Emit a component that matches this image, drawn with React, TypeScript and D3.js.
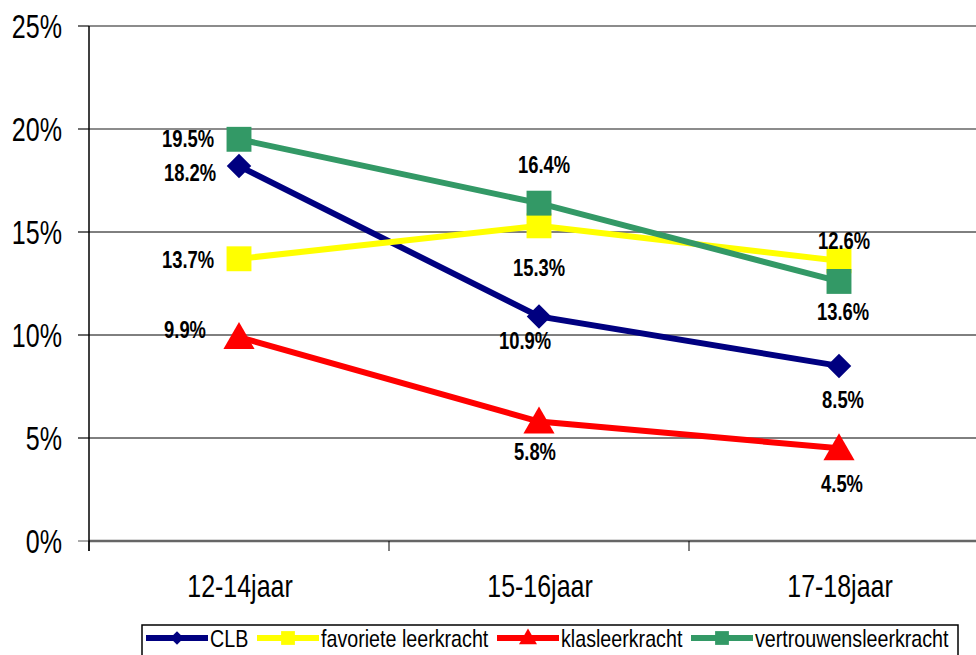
import React from "react";
import { scaleBand, scaleLinear, line, symbol, symbolSquare, symbolTriangle } from "d3";

const categories = ["12-14jaar", "15-16jaar", "17-18jaar"];
const seriesNames = ["CLB", "favoriete leerkracht", "klasleerkracht", "vertrouwensleerkracht"];
const clb = [18.2, 10.9, 8.5];
const favoriete = [13.7, 15.3, 13.6];
const klas = [9.9, 5.8, 4.5];
const vertrouwens = [19.5, 16.4, 12.6];
const yTicks = [0, 5, 10, 15, 20, 25];

// label placement (dx, dy from the marker), like the data labels in the source
const labelOffsets = [
  [[-49, 7], [-14, 24], [4, 34]],
  [[-51, 1], [0, 42], [4, 51]],
  [[-54, -7], [-4, 30], [3, 35]],
  [[-51, -1], [5, -38], [5, -41]],
];

const W = 976;
const H = 655;
const margin = { left: 89, top: 26, bottom: 541 };
const colors = ["#000080", "#FFFF00", "#FF0000", "#339966"];
// diamond = square rotated 45deg
const symbols = [symbolSquare, symbolSquare, symbolTriangle, symbolSquare];
const rotations = [45, 0, 0, 0];
const symbolSizes = [300, 620, 420, 620];
const legendSizes = [90, 190, 140, 190];
const font = "'Liberation Sans', Arial, sans-serif";

function SText({ x, y, sx, size, bold, anchor, children }: any) {
  return (
    <text
      transform={`translate(${x},${y}) scale(${sx},1)`}
      textAnchor={anchor}
      dominantBaseline="central"
      fontFamily={font}
      fontSize={size}
      fontWeight={bold ? "bold" : "normal"}
      fill="#000"
    >
      {children}
    </text>
  );
}

export default function App() {
  const series = [clb, favoriete, klas, vertrouwens];
  const x = scaleBand<string>().domain(categories).range([margin.left, margin.left + 900]);
  const y = scaleLinear().domain([0, 25]).range([margin.bottom, margin.top]);
  const cx = (c: string) => (x(c) ?? 0) + x.bandwidth() / 2;
  const lineFn = line<number>()
    .x((_, i) => cx(categories[i]))
    .y((d) => y(d));

  const legendX = [146, 257, 497, 691];

  return (
    <svg
      width={W}
      height={H}
      style={{ position: "absolute", left: 0, top: 0, background: "#fff" }}
    >
      {/* gridlines */}
      {yTicks.map((t) => (
        <g key={t}>
          <line
            x1={t === 0 ? margin.left : margin.left - 11}
            x2={W}
            y1={y(t)}
            y2={y(t)}
            stroke={t === 0 || t === 25 || t === 20 ? "#666" : "#000"}
            strokeWidth={t === 0 ? 2.5 : t === 25 || t === 20 ? 1.5 : 1}
          />
          <line x1={margin.left - 11} x2={margin.left} y1={y(t)} y2={y(t)} stroke="#555" strokeWidth={1} />
          <SText x={62} y={y(t)} sx={0.76} size={33} anchor="end">
            {`${t}%`}
          </SText>
        </g>
      ))}
      {/* y axis */}
      <line x1={margin.left} x2={margin.left} y1={margin.top} y2={margin.bottom + 10} stroke="#000" strokeWidth={1.5} />
      {/* x ticks */}
      {[0, 1, 2, 3].map((i) => (
        <line
          key={i}
          x1={margin.left + i * x.bandwidth()}
          x2={margin.left + i * x.bandwidth()}
          y1={margin.bottom}
          y2={margin.bottom + 10}
          stroke="#000"
          strokeWidth={1}
        />
      ))}
      {categories.map((c) => (
        <SText key={c} x={cx(c) + 1} y={586} sx={0.78} size={32} anchor="middle">
          {c}
        </SText>
      ))}
      {/* lines */}
      {series.map((s, si) => (
        <path key={si} d={lineFn(s) ?? ""} fill="none" stroke={colors[si]} strokeWidth={6} />
      ))}
      {/* markers */}
      {series.map((s, si) =>
        s.map((v, i) => (
          <path
            key={`${si}-${i}`}
            transform={`translate(${cx(categories[i])},${y(v) + (si === 2 ? 3 : 0)}) rotate(${rotations[si]})`}
            d={symbol(symbols[si], symbolSizes[si])() ?? ""}
            fill={colors[si]}
          />
        ))
      )}
      {/* data labels */}
      {series.map((s, si) =>
        s.map((v, i) => (
          <SText
            key={`l${si}-${i}`}
            x={cx(categories[i]) + labelOffsets[si][i][0]}
            y={y(v) + labelOffsets[si][i][1]}
            sx={0.8}
            size={23}
            bold
            anchor="middle"
          >
            {`${v.toFixed(1)}%`}
          </SText>
        ))
      )}
      {/* legend */}
      <rect x={142} y={625} width={816} height={40} fill="#fff" stroke="#000" strokeWidth={1.5} />
      {seriesNames.map((n, si) => (
        <g key={n}>
          <line x1={legendX[si]} x2={legendX[si] + 62} y1={638} y2={638} stroke={colors[si]} strokeWidth={6} />
          <path
            transform={`translate(${legendX[si] + 31},${638 + (si === 2 ? 1 : 0)}) rotate(${rotations[si]})`}
            d={symbol(symbols[si], legendSizes[si])() ?? ""}
            fill={colors[si]}
          />
          <SText x={legendX[si] + 64} y={639} sx={0.82} size={24} anchor="start">
            {n}
          </SText>
        </g>
      ))}
    </svg>
  );
}
